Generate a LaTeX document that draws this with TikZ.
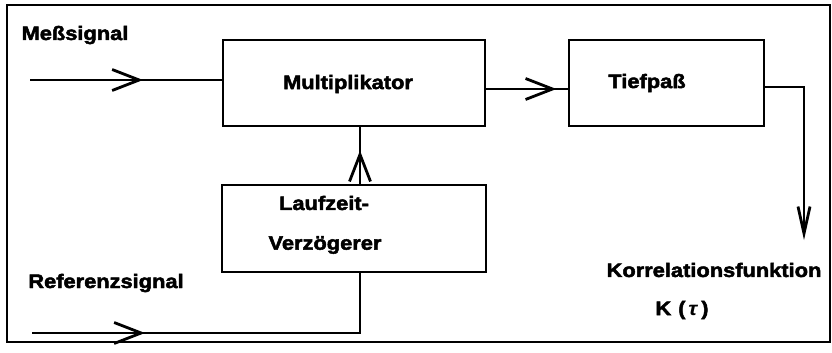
\documentclass[tikz,border=0pt]{standalone}
\usepackage{fontspec}
\setmainfont{Liberation Sans}[FakeStretch=1.12,BoldFeatures={FakeBold=2.5}]
\usetikzlibrary{arrows.meta,decorations.markings,calc}
\tikzset{
  myBarb/.tip={Straight Barb[length=27pt,width=21pt,line width=2.8pt]},
  myDown/.tip={Straight Barb[length=27pt,width=12pt,line width=2.8pt]}}
\begin{document}
\begin{tikzpicture}[x=1pt,y=-1pt,
  lw/.style={line width=2.8pt},
  blk/.style={draw,lw,rectangle,inner sep=0pt},
  lbl/.style={font=\fontsize{19.5}{22}\selectfont\bfseries,inner sep=0pt},
  midarrow/.style={postaction=decorate,decoration={markings,mark=at position #1 with {\arrow{myBarb}}}}]
\useasboundingbox (0,0) rectangle (832,353);
\draw[line width=2.2pt] (7,5) rectangle (830,342);
% blocks
\node[blk,minimum width=262pt,minimum height=86pt] (mult) at (354,83) {};
\node[blk,minimum width=195pt,minimum height=86pt] (tp) at (666.5,83) {};
\node[blk,minimum width=264pt,minimum height=87pt] (lz) at (354,228.5) {};
% texts
\node[lbl] (tmult) at (348,84) {Multiplikator};
\node[lbl] (ttp) at (647,83) {Tiefpaß};
\node[lbl] (tlz1) at (324,203) {Laufzeit-};
\node[lbl] (tlz2) at (325,245) {Verzögerer};
\node[lbl] (tmess) at (75,35) {Meßsignal};
\node[lbl] (tref) at (106,283) {Referenzsignal};
\node[lbl] (tkorr) at (714,270) {Korrelationsfunktion};
\node[lbl] (tk) at (682,310) {K\hspace{7pt}(\hspace{3pt}\textit{τ}\hspace{3pt})};
% coordinates
\coordinate (in1) at (30,80);
\coordinate (in2) at (32,333);
\coordinate (corner2) at (360,333);
\coordinate (corner3) at (804,87);
\coordinate (out) at (804,240);
% connectors
\draw[lw,midarrow=113pt] (in1) -- (in1 -| mult.west);
\draw[lw,midarrow=70pt] ([yshift=-6pt]mult.east) -- ([yshift=-6pt]tp.west);
\draw[lw,midarrow=33pt] (lz.north -| corner2) -- (mult.south -| corner2);
\draw[lw,midarrow=113pt] (in2) -- (corner2) -- (lz.south -| corner2);
\draw[lw,-myDown] ([yshift=-4pt]tp.east) -- (corner3) -- (out);
\end{tikzpicture}
\end{document}
